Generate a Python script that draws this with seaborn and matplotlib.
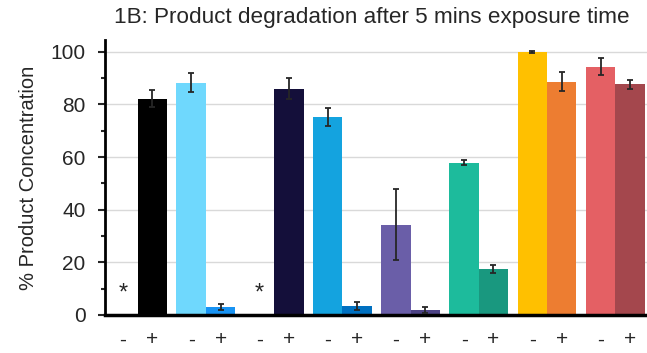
import numpy as np
import pandas as pd
import seaborn as sns
import matplotlib
matplotlib.use("Agg")
import matplotlib.pyplot as plt
from matplotlib.ticker import MultipleLocator

# data
groups = ["g1", "g2", "g3", "g4", "g5", "g6", "g7", "g8"]
treat = ["-", "+"]
minus_vals = [np.nan, 88.3, np.nan, 75.4, 34.3, 57.9, 100.0, 94.4]
plus_vals = [82.2, 3.0, 85.9, 3.5, 1.9, 17.6, 88.7, 87.6]
minus_err = [np.nan, 3.6, np.nan, 3.4, 13.4, 0.9, 0.3, 3.3]
plus_err = [3.2, 1.2, 4.0, 1.6, 1.1, 1.5, 3.5, 1.7]
minus_colors = ["#000000", "#6fd8fd", "#000000", "#14a3df", "#6a5ea8", "#1dbb9c", "#ffc000", "#e46064"]
plus_colors = ["#000000", "#1893f3", "#140f3a", "#0070c0", "#4d4385", "#19987f", "#ed7d31", "#a4474d"]

group_step = 2.32
rows = []
for i, g in enumerate(groups):
    rows.append(dict(pos=i * group_step, val=minus_vals[i], err=minus_err[i], name=g + "-", col=minus_colors[i], lab=treat[0]))
    rows.append(dict(pos=i * group_step + 1, val=plus_vals[i], err=plus_err[i], name=g + "+", col=plus_colors[i], lab=treat[1]))
df = pd.DataFrame(rows)

sns.set_style("white")
plt.rcParams["font.family"] = ["Liberation Sans", "DejaVu Sans"]

fig = plt.figure(figsize=(6.47, 3.53), dpi=100)
ax = fig.add_axes([105 / 647, 1 - 315 / 353, 542 / 647, 275 / 353])

ax.yaxis.grid(True, color="#d9d9d9", linewidth=1)
ax.set_axisbelow(True)

sns.barplot(data=df, x="pos", y="val", hue="name",
            palette=dict(zip(df["name"], df["col"])),
            native_scale=True, dodge=False, width=1.0, linewidth=0,
            errorbar=None, legend=False, saturation=1, ax=ax)

ok = df["val"].notna()
ax.errorbar(df.loc[ok, "pos"], df.loc[ok, "val"], yerr=df.loc[ok, "err"],
            fmt="none", ecolor="#262626", elinewidth=1.3, capsize=2.2, capthick=1.3, zorder=5)

# missing measurements marked with a star
for p in df.loc[~ok, "pos"]:
    ax.text(p, 8.0, "*", ha="center", va="center", fontsize=17)

ax.set_xlim(-0.61, df["pos"].max() + 0.58)
ax.set_ylim(0, 104.5)
ax.yaxis.set_major_locator(MultipleLocator(20))
ax.yaxis.set_minor_locator(MultipleLocator(10))
ax.set_xticks(df["pos"])
ax.set_xticklabels(df["lab"], fontsize=15)
ax.tick_params(axis="x", length=0, pad=11)
ax.tick_params(axis="y", which="major", left=True, length=5, width=1.5, labelsize=15, pad=9)
ax.tick_params(axis="y", which="minor", left=True, length=3, width=1.5)

for s in ["top", "right"]:
    ax.spines[s].set_visible(False)
ax.spines["left"].set_linewidth(2)
ax.spines["bottom"].set_linewidth(2.5)
ax.spines["left"].set_color("black")
ax.spines["bottom"].set_color("black")

ax.set_xlabel("")
ax.set_ylabel("% Product Concentration", fontsize=14.5, labelpad=9)
fig.text(372 / 647, 1 - 18 / 353, "1B: Product degradation after 5 mins exposure time",
         ha="center", va="center", fontsize=16.2)

fig.savefig("out.png", dpi=100)
